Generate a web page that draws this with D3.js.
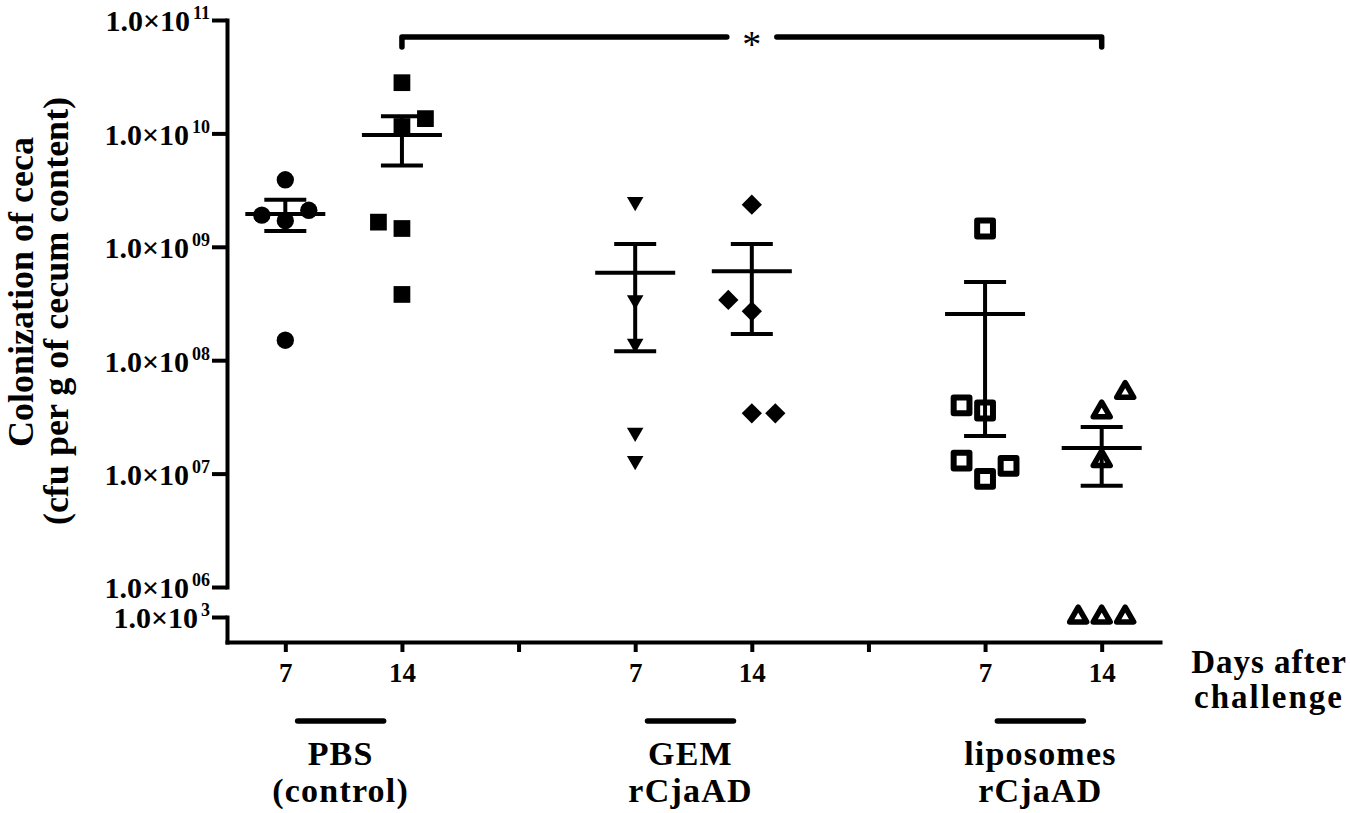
<!DOCTYPE html>
<html>
<head>
<meta charset="utf-8">
<script src="https://cdn.jsdelivr.net/npm/d3@7"></script>
<style>
  body { margin: 0; background: #fff; }
  svg { display: block; }
</style>
</head>
<body>
<div id="chart"></div>
<script>
// x categories: day of sampling inside each vaccine group, blank slots between groups
const categories = ["PBS-7", "PBS-14", "gap-1", "GEM-7", "GEM-14", "gap-2", "LIP-7", "LIP-14"];
const dayLabels = ["7", "14", "", "7", "14", "", "7", "14"];
const groupNames = [["PBS", "(control)"], ["GEM", "rCjaAD"], ["liposomes", "rCjaAD"]];
const groupDays = [["PBS-7", "PBS-14"], ["GEM-7", "GEM-14"], ["LIP-7", "LIP-14"]];

// y axis ticks (log scale, broken below 1e6)
const yTicks = [1e6, 1e7, 1e8, 1e9, 1e10, 1e11];
const yTickExp = ["06", "07", "08", "09", "10", "11"];
const lowTick = 1e3;

// cfu per g of cecum content, one value per bird
// cols = column of the replicate in the scatter (-1 left, 0 centre, 1 right)
const pbs7 = [3.9e9, 1.9e9, 1.7e9, 2.1e9, 1.5e8];
const pbs7Cols = [0, -1, 0, 1, 0];
const pbs14 = [2.8e10, 1.15e10, 1.35e10, 1.65e9, 1.45e9, 3.8e8];
const pbs14Cols = [0, 0, 1, -1, 0, 0];
const gem7 = [2.5e9, 3.4e8, 1.4e8, 2.3e7, 1.3e7];
const gem7Cols = [0, 0, 0, 0, 0];
const gem14 = [2.35e9, 3.4e8, 2.7e8, 3.4e7, 3.4e7];
const gem14Cols = [0, -1, 0, 0, 1];
const lip7 = [1.45e9, 4.0e7, 3.6e7, 1.3e7, 9.0e6, 1.17e7];
const lip7Cols = [0, -1, 0, -1, 0, 1];
const lip14 = [5.2e7, 3.5e7, 1.3e7, 1e3, 1e3, 1e3];
const lip14Cols = [1, 0, 0, -1, 0, 1];

// mean and mean +/- SEM per day group, as plotted
const means = [1.95e9, 9.7e9, 5.9e8, 6.1e8, 2.55e8, 1.68e7];
const semUpper = [2.6e9, 1.42e10, 1.06e9, 1.06e9, 4.9e8, 2.58e7];
const semLower = [1.38e9, 5.2e9, 1.2e8, 1.7e8, 2.15e7, 7.8e6];

// significance bracket
const sigFrom = "PBS-14", sigTo = "LIP-14", sigLabel = "*";

const width = 1350, height = 813;
const FONT = "'Liberation Serif', 'Times New Roman', Times, serif";

const svg = d3.select("#chart").append("svg")
    .attr("width", width)
    .attr("height", height)
    .style("font-family", FONT)
    .style("font-weight", "bold");

const x = d3.scalePoint()
    .domain(categories)
    .range([227, 1160])
    .padding(0.5);

const yMain = d3.scaleLog().domain([1e6, 1e11]).range([587, 20]);
const yLow = d3.scaleLog().domain([1e2, 1e3]).range([642, 617]);
const y = v => v >= 1e6 ? yMain(v) : yLow(v);

const dodge = 23.5;

// Draw the replicates
const series = [
    {cat: "PBS-7", values: pbs7, cols: pbs7Cols, type: d3.symbolCircle, size: 235, rotate: 0, open: false},
    {cat: "PBS-14", values: pbs14, cols: pbs14Cols, type: d3.symbolSquare, size: 280, rotate: 0, open: false},
    {cat: "GEM-7", values: gem7, cols: gem7Cols, type: d3.symbolTriangle, size: 118, rotate: 180, open: false},
    {cat: "GEM-14", values: gem14, cols: gem14Cols, type: d3.symbolSquare, size: 205, rotate: 45, open: false},
    {cat: "LIP-7", values: lip7, cols: lip7Cols, type: d3.symbolSquare, size: 250, rotate: 0, open: true, sw: 6},
    {cat: "LIP-14", values: lip14, cols: lip14Cols, type: d3.symbolTriangle, size: 125, rotate: 0, open: true, sw: 5.5}
];

series.forEach(s => {
    svg.append("g")
      .selectAll("path")
      .data(s.values.map((v, j) => ({v: v, col: s.cols[j]})))
      .join("path")
        .attr("d", d3.symbol(s.type, s.size))
        .attr("transform", d => `translate(${x(s.cat) + d.col * dodge},${y(d.v)}) rotate(${s.rotate})`)
        .attr("fill", s.open ? "#fff" : "#000")
        .attr("stroke", s.open ? "#000" : "none")
        .attr("stroke-width", s.open ? s.sw : 0)
        .attr("stroke-linejoin", "round");
});

// Mean and SEM bars (drawn over the points)
const statCats = series.map(s => s.cat);
const stats = svg.append("g")
    .attr("stroke", "#000")
    .attr("stroke-width", 4);

statCats.forEach((c, i) => {
    const cx = x(c);
    stats.append("line")
        .attr("x1", cx).attr("x2", cx)
        .attr("y1", y(semLower[i])).attr("y2", y(semUpper[i]));
    [semLower[i], semUpper[i]].forEach(v => {
        stats.append("line")
            .attr("x1", cx - 21).attr("x2", cx + 21)
            .attr("y1", y(v)).attr("y2", y(v));
    });
    stats.append("line")
        .attr("x1", cx - 40).attr("x2", cx + 40)
        .attr("y1", y(means[i])).attr("y2", y(means[i]));
});

// Y axis, upper part
const yAxis = svg.append("g")
    .attr("transform", "translate(227,0)")
    .call(d3.axisLeft(yMain).tickValues(yTicks).tickSize(15).tickSizeOuter(0).tickFormat(""));

// Y axis, below the break
const yAxisLow = svg.append("g")
    .attr("transform", "translate(227,0)")
    .call(d3.axisLeft(yLow).tickValues([lowTick]).tickSize(15).tickSizeOuter(0).tickFormat(""));

function powerLabel(sel, expOf) {
    sel.selectAll(".tick text").each(function(d) {
        const t = d3.select(this).attr("x", -17).attr("dy", "0.36em");
        t.append("tspan").text("1.0×10");
        t.append("tspan").attr("dx", 3).attr("dy", -12).attr("font-size", 18).text(expOf(d));
    });
}
powerLabel(yAxis, d => yTickExp[yTicks.indexOf(d)]);
powerLabel(yAxisLow, d => String(Math.round(Math.log10(d))));

// X axis
const xAxis = svg.append("g")
    .attr("transform", "translate(0,642)")
    .call(d3.axisBottom(x).tickSize(10).tickSizeOuter(0)
        .tickFormat((d, i) => dayLabels[i]));

xAxis.selectAll(".tick text").attr("y", 40).attr("dy", null);

[yAxis, yAxisLow, xAxis].forEach(a => {
    a.attr("font-family", FONT).attr("font-size", a === xAxis ? 27 : 30).attr("font-weight", "bold");
    a.selectAll(".domain").attr("stroke-width", 4).attr("stroke-linecap", "square");
    a.selectAll(".tick line").attr("stroke-width", 4);
    a.selectAll("text").attr("fill", "#000");
});

// Axis titles
svg.append("text")
    .attr("transform", "translate(33,292) rotate(-90)")
    .attr("text-anchor", "middle")
    .attr("font-size", 36)
    .text("Colonization of ceca");

svg.append("text")
    .attr("transform", "translate(68,311) rotate(-90)")
    .attr("text-anchor", "middle")
    .attr("font-size", 36)
    .text("(cfu per g of cecum content)");

const daysTitle = svg.append("text")
    .attr("text-anchor", "middle")
    .attr("font-size", 33)
    .attr("letter-spacing", 1);
daysTitle.append("tspan").attr("x", 1269).attr("y", 673).text("Days after");
daysTitle.append("tspan").attr("x", 1269).attr("y", 708).attr("letter-spacing", 2).text("challenge");

// Group labels under the axis
groupDays.forEach((days, i) => {
    const cx = (x(days[0]) + x(days[1])) / 2 - 3;
    svg.append("line")
        .attr("x1", cx - 43).attr("x2", cx + 43)
        .attr("y1", 721).attr("y2", 721)
        .attr("stroke", "#000")
        .attr("stroke-width", 5.5)
        .attr("stroke-linecap", "round");
    const t = svg.append("text")
        .attr("text-anchor", "middle")
        .attr("font-size", 34)
        .attr("letter-spacing", 1.2);
    t.append("tspan").attr("x", cx).attr("y", 765).text(groupNames[i][0]);
    t.append("tspan").attr("x", cx).attr("y", 802).text(groupNames[i][1]);
});

// Significance bracket
const bx1 = x(sigFrom), bx2 = x(sigTo), bm = (bx1 + bx2) / 2;
const by = 37, gap = 25;
svg.append("path")
    .attr("d", `M${bx1},47V${by}H${bm - gap}M${bm + gap},${by}H${bx2}V47`)
    .attr("fill", "none")
    .attr("stroke", "#000")
    .attr("stroke-width", 5.5)
    .attr("stroke-linecap", "round")
    .attr("stroke-linejoin", "round");

svg.append("text")
    .attr("x", bm)
    .attr("y", 57)
    .attr("text-anchor", "middle")
    .attr("font-size", 38)
    .attr("font-weight", "normal")
    .text(sigLabel);
</script>
</body>
</html>
